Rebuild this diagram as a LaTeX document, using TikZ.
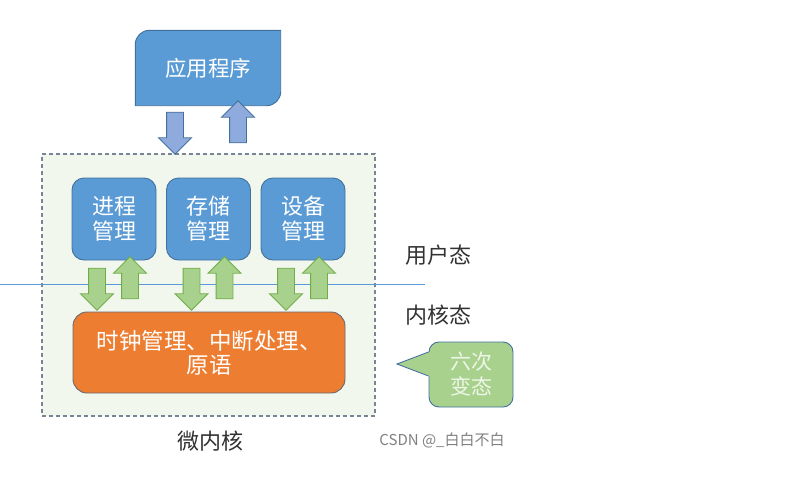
\documentclass[tikz,border=0pt]{standalone}
\usepackage{fontspec}
\setmainfont{Noto Sans CJK SC}
\usepackage{xcolor}
\usetikzlibrary{positioning, calc, shapes.arrows}

\definecolor{boxblue}{RGB}{91,155,213}
\definecolor{boxedge}{RGB}{65,113,156}
\definecolor{arrblue}{RGB}{143,170,220}
\definecolor{arrgreen}{RGB}{169,209,142}
\definecolor{greenedge}{RGB}{112,173,71}
\definecolor{corange}{RGB}{237,125,49}
\definecolor{orangeedge}{RGB}{105,105,115}
\definecolor{kernbg}{RGB}{242,247,238}
\definecolor{dashgray}{RGB}{120,132,152}
\definecolor{textgray}{RGB}{50,50,50}

\begin{document}
\begin{tikzpicture}[
  x=1pt, y=-1pt,
  module/.style={rectangle, rounded corners=12pt, draw=boxedge, fill=boxblue,
    text=white, minimum width=84pt, minimum height=82pt, align=center,
    line width=0.9pt, font=\fontsize{22}{25}\selectfont},
  blockarr/.style={single arrow, inner sep=8pt, single arrow head extend=8pt,
    minimum height=42pt, line width=0.9pt},
  downarr/.style={blockarr, shape border rotate=270, draw=greenedge, fill=arrgreen},
  uparr/.style={blockarr, shape border rotate=90, draw=greenedge, fill=arrgreen},
  modelabel/.style={text=textgray, font=\fontsize{22}{22}\selectfont}
]
\useasboundingbox (0,0) rectangle (789,485);

% kernel frame
\node (kernel) [draw=dashgray, dash pattern=on 4pt off 3pt, line width=1.2pt,
  fill=kernbg, minimum width=333pt, minimum height=262pt] at (208.5,285) {};

% application
\node (app) [minimum width=145pt, minimum height=75pt] at (208,68) {};
\filldraw[draw=boxedge, fill=boxblue, line width=0.9pt]
  (app.south west) -- ($(app.north west)+(0,14)$)
  arc[start angle=180, end angle=270, radius=14]
  -- (app.north east) -- ($(app.south east)+(0,-14)$)
  arc[start angle=0, end angle=90, radius=14] -- cycle;
\node (apptext) [text=white, font=\fontsize{21.5}{21.5}\selectfont] at (app.center) {应用程序};

\node (appdn) [blockarr, shape border rotate=270, draw=boxedge, fill=arrblue]
  at ([xshift=-33pt, yshift=-61pt]app.center) {};
\node (appup) [blockarr, shape border rotate=90, draw=boxedge, fill=arrblue]
  at ([xshift=30pt, yshift=-58pt]app.center) {};

% boundary
\coordinate (lineL) at (0,284);
\coordinate (lineR) at (425,284);
\draw[boxblue, line width=1pt] (lineL) -- (lineR);

% services
\node (proc) [module] at (114,219) {进程\\管理};
\node (stor) [module] at (208.5,219) {存储\\管理};
\node (dev) [module] at (303,219) {设备\\管理};

\node (procdn) [downarr] at ([xshift=-17pt, yshift=-66pt]proc.center) {};
\node (procup) [uparr] at ([xshift=16pt, yshift=-63pt]proc.center) {};
\node (stordn) [downarr] at ([xshift=-17pt, yshift=-66pt]stor.center) {};
\node (storup) [uparr] at ([xshift=16pt, yshift=-63pt]stor.center) {};
\node (devdn) [downarr] at ([xshift=-17pt, yshift=-66pt]dev.center) {};
\node (devup) [uparr] at ([xshift=16pt, yshift=-63pt]dev.center) {};

\node (clock) [rectangle, rounded corners=14pt, draw=orangeedge, fill=corange,
  text=white, line width=0.9pt, minimum width=272pt, minimum height=81pt,
  align=center, font=\fontsize{22.5}{24}\selectfont] at (209,352.5)
  {时钟管理、中断处理、\\原语};

\node (micro) [modelabel] at (210,441) {微内核};
\node (user) [modelabel] at (438,255) {用户态};
\node (kmode) [modelabel] at (438,315) {内核态};

% callout
\coordinate (tip) at (397,364);
\node (six) [rectangle, rounded corners=10pt, draw=boxedge, fill=arrgreen,
  line width=0.9pt, minimum width=84pt, minimum height=65pt, align=center,
  text=white!80!arrgreen, font=\fontsize{21}{25}\selectfont] at (471,374.5)
  {六次\\变态};
\fill[arrgreen] ([xshift=1.5pt, yshift=22.5pt]six.west) -- (tip)
  -- ([xshift=1.5pt, yshift=-1.5pt]six.west) -- cycle;
\draw[boxedge, line width=0.9pt] ([yshift=22.5pt]six.west) -- (tip)
  -- ([yshift=-1.5pt]six.west);

\node (mark) [text=gray, font=\fontsize{15}{15}\selectfont] at (442,440) {CSDN @\_白白不白};
\end{tikzpicture}
\end{document}
